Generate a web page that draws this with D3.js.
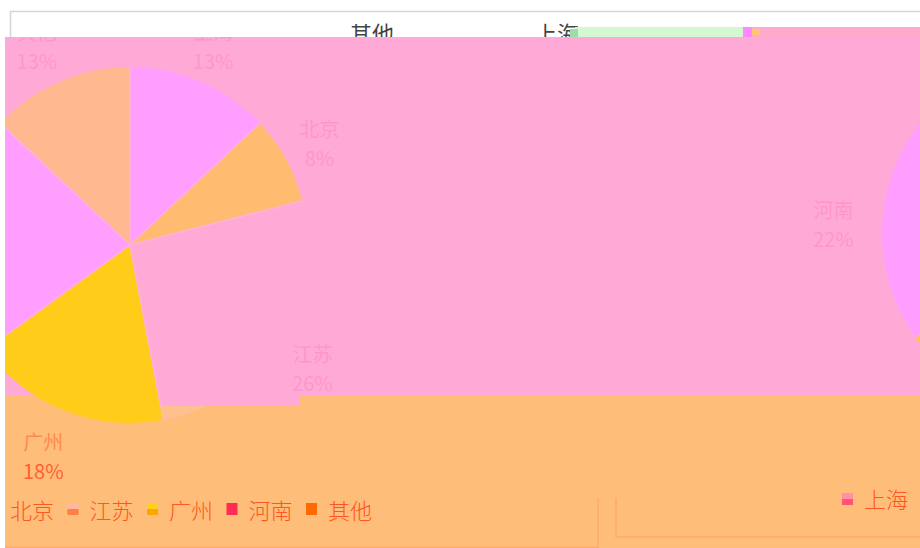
<!DOCTYPE html>
<html><head><meta charset="utf-8">
<script src="https://cdn.jsdelivr.net/npm/d3@7"></script>
<style>body{margin:0;background:#fff}svg{display:block}</style></head>
<body>
<svg id="c" width="920" height="548"></svg>
<script>
const categories = ['上海','北京','江苏','广州','河南','其他'];
const values = [13, 8, 26, 18, 22, 13];
const sliceColors = ['#FF9EFF','#FFBB70','#FFAAD6','#FFCC1A','#FF9EFF','#FFB890'];
const labelColors = ['#FF96C8','#FF96C8','#FF96C8','#FF8A50','#FF96C8','#FF96C8'];
const pctColors = ['#FF96C8','#FF96C8','#FF96C8','#FF6030','#FF96C8','#FF96C8'];
const legendNames = ['北京','江苏','广州','河南','其他'];
const legendTopColors = ['#FFA080','#FFB8A0','#FFD21A','#FF2D55','#FF6A00'];
const legendBotColors = ['#FF7F50','#FF7F45','#FFA500','#FF2D55','#FF6A00'];
const extraLegend = '上海';
const topTitles = ['其他','上海'];

const svg = d3.select('#c');
const W = 920, H = 548;
const defs = svg.append('defs');
defs.append('clipPath').attr('id','plot').append('rect').attr('x',5).attr('y',37).attr('width',W-5).attr('height',H-37);
defs.append('clipPath').attr('id','below').append('rect').attr('x',0).attr('y',406).attr('width',W).attr('height',200);

// top white header with gray frame
svg.append('rect').attr('x',10.5).attr('y',11.5).attr('width',W).attr('height',60)
  .attr('fill','#fff').attr('stroke','#d6d6d6').attr('stroke-width',1.5);
svg.selectAll('text.tt').data(topTitles).join('text').attr('class','tt')
  .attr('x',(d,i)=>[350,535][i]).attr('y',42)
  .attr('font-family','"Noto Sans CJK SC", sans-serif').attr('font-size',22)
  .attr('fill','#444').text(d=>d);
svg.append('rect').attr('x',575).attr('y',27).attr('width',170).attr('height',10).attr('fill','#D4F8D2');
svg.append('rect').attr('x',570).attr('y',29).attr('width',8).attr('height',8).attr('fill','#9ADFA8');
svg.append('rect').attr('x',743).attr('y',27).attr('width',9).attr('height',10).attr('fill','#FF88FF');
svg.append('rect').attr('x',752).attr('y',27).attr('width',W-752).attr('height',10).attr('fill','#FFAACC');
svg.append('rect').attr('x',752).attr('y',29).attr('width',8).attr('height',6).attr('fill','#FFC870');

// backgrounds
svg.append('rect').attr('x',5).attr('y',37).attr('width',W-5).attr('height',H-37).attr('fill','#FFBD7A');
svg.append('rect').attr('x',5).attr('y',37).attr('width',W-5).attr('height',358).attr('fill','#FFAAD6');
svg.append('rect').attr('x',137).attr('y',395).attr('width',163).attr('height',11).attr('fill','#FFAAD6');

const g = svg.append('g').attr('clip-path','url(#plot)');
const pie = d3.pie().sort(null).value(d=>d);
const arcs = pie(values);
const R = 178;
const arc = d3.arc().innerRadius(0).outerRadius(R);
const labelArc = d3.arc().innerRadius(222).outerRadius(222);
const centers = [[130,245],[1060,233]];

centers.forEach(c=>{
  const pg = g.append('g').attr('transform',`translate(${c[0]},${c[1]})`);
  pg.selectAll('path.s').data(arcs).join('path').attr('class','s')
    .attr('d',arc).attr('fill',(d,i)=>sliceColors[i]);
  g.append('g').attr('clip-path','url(#below)')
    .append('path').attr('transform',`translate(${c[0]},${c[1]})`)
    .attr('d',arc(arcs[2])).attr('fill','#FFC090');
  // radial separators
  pg.selectAll('line.sep').data(arcs).join('line').attr('class','sep')
    .attr('x1',0).attr('y1',0)
    .attr('x2',d=>R*Math.sin(d.startAngle)).attr('y2',d=>-R*Math.cos(d.startAngle))
    .attr('stroke','#FFB2DA').attr('stroke-width',1.5);
  const lg = g.append('g').attr('transform',`translate(${c[0]-5},${c[1]+5})`);
  arcs.forEach((d,i)=>{
    const [x,y] = labelArc.centroid(d);
    lg.append('text').attr('x',x).attr('y',y-15).attr('text-anchor','middle').attr('dominant-baseline','central')
      .attr('font-family','"Noto Sans CJK SC", sans-serif').attr('font-size',20).attr('fill',labelColors[i])
      .text(categories[i]);
    lg.append('text').attr('x',x).attr('y',y+14).attr('text-anchor','middle').attr('dominant-baseline','central')
      .attr('font-family','"Noto Sans CJK SC", sans-serif').attr('font-size',20).attr('fill',pctColors[i])
      .text(values[i]+'%');
  });
});

// legend
const lx = d3.scaleLinear().domain([0,1]).range([10,89.5]);
const leg = svg.append('g');
legendNames.forEach((n,i)=>{
  const x = lx(i);
  leg.append('rect').attr('x',x-22).attr('y',503).attr('width',11).attr('height',6).attr('fill',legendTopColors[i]);
  leg.append('rect').attr('x',x-22).attr('y',509).attr('width',11).attr('height',6).attr('fill',legendBotColors[i]);
  leg.append('text').attr('x',x).attr('y',509).attr('dominant-baseline','central')
    .attr('font-family','"Noto Sans CJK SC", sans-serif').attr('font-weight',300).attr('font-size',22)
    .attr('fill','#FF5520').text(n);
});
leg.append('rect').attr('x',842).attr('y',493).attr('width',11).attr('height',6).attr('fill','#FF90A8');
leg.append('rect').attr('x',842).attr('y',499).attr('width',11).attr('height',6).attr('fill','#FF5570');
leg.append('text').attr('x',864).attr('y',498).attr('dominant-baseline','central')
  .attr('font-family','"Noto Sans CJK SC", sans-serif').attr('font-weight',300).attr('font-size',22)
  .attr('fill','#FF5520').text(extraLegend);

// frame lines at the bottom
const lc = '#FFAA6A';
svg.append('path').attr('d','M598,498V547.5H5').attr('fill','none').attr('stroke',lc).attr('stroke-width',1.5);
svg.append('path').attr('d','M616,498V537H920').attr('fill','none').attr('stroke',lc).attr('stroke-width',1.5);
</script>
</body></html>
